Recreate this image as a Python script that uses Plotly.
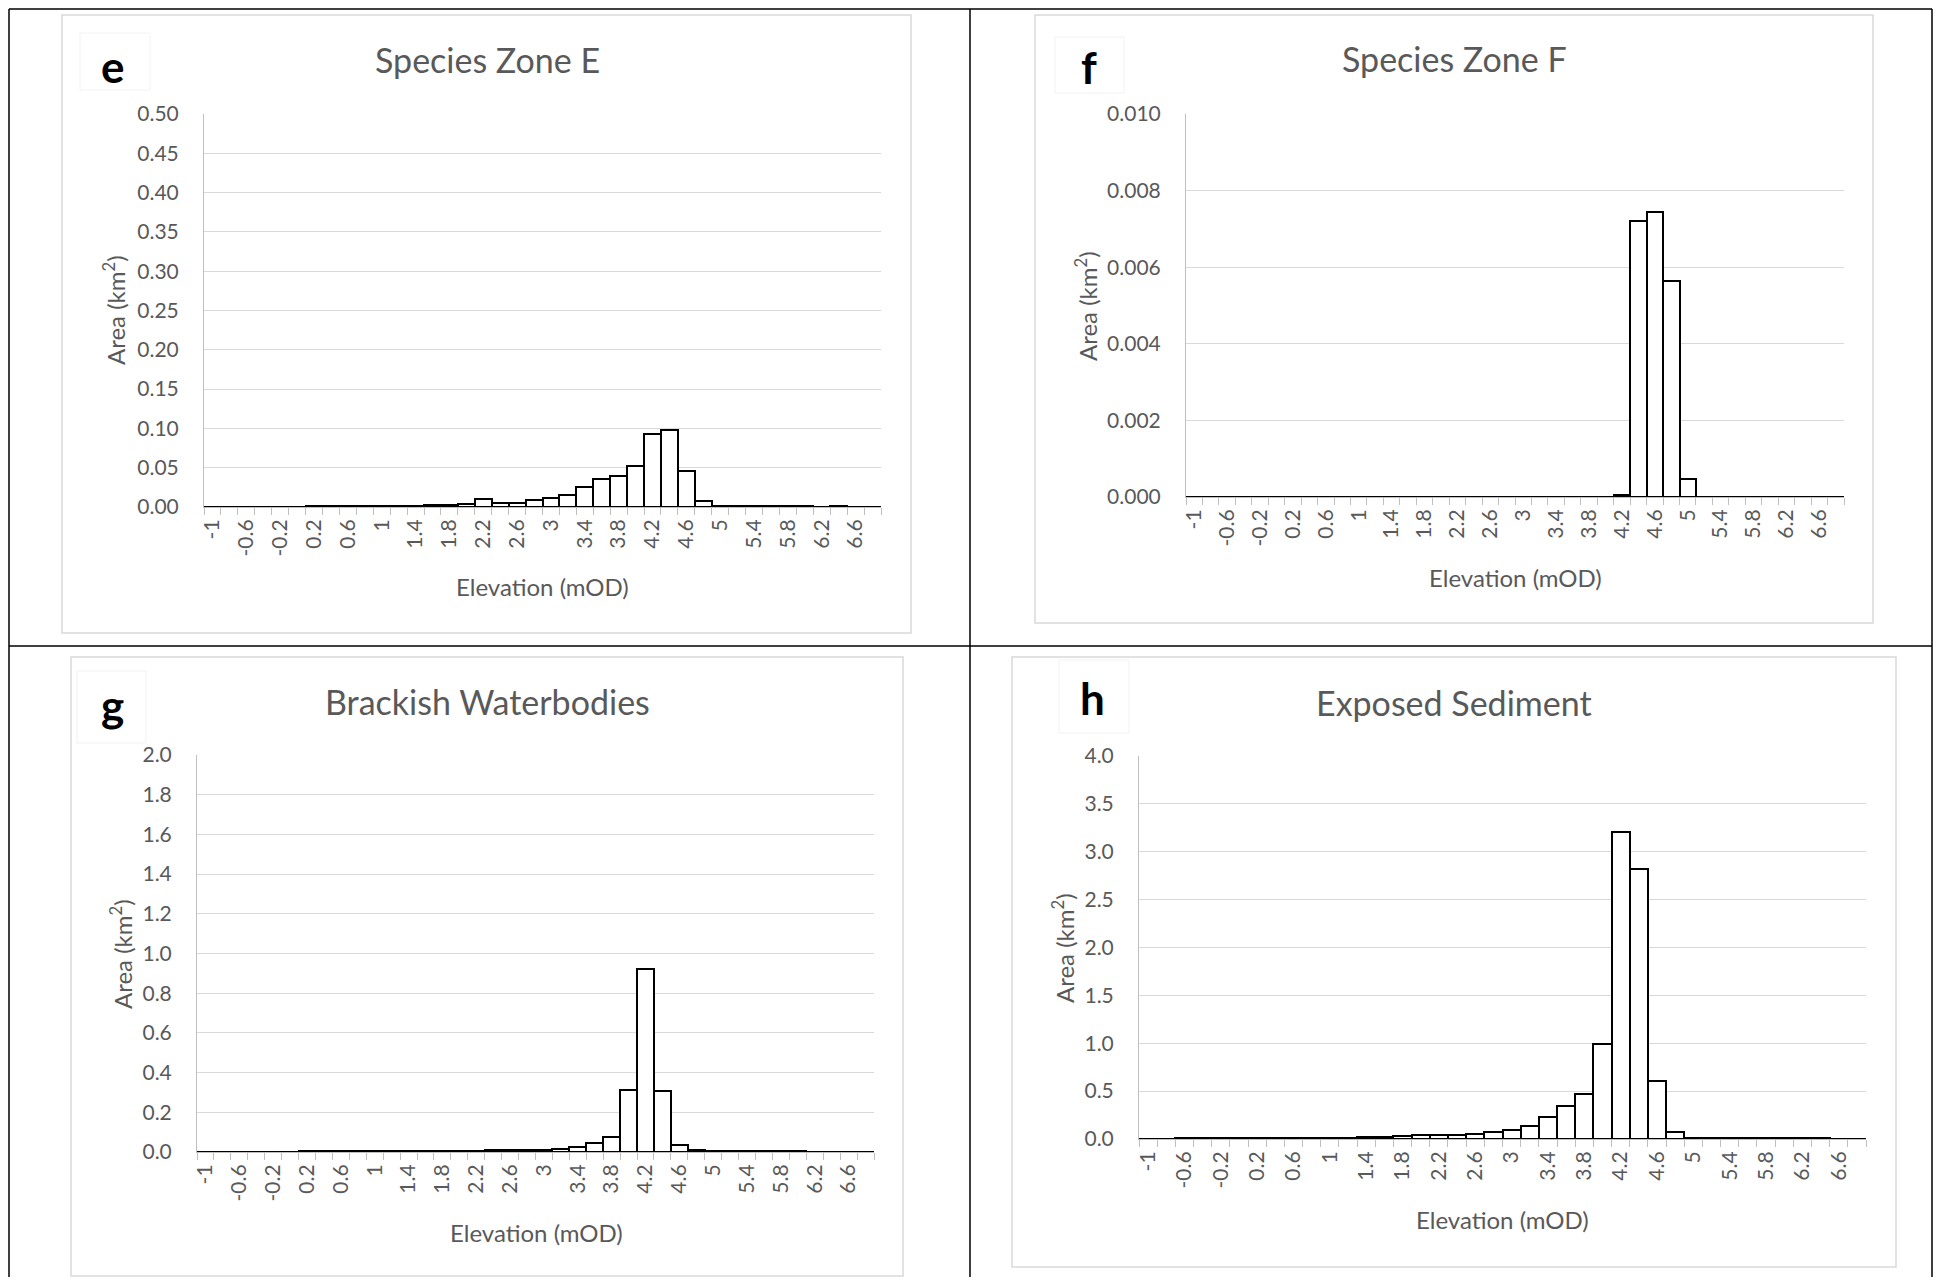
import plotly.graph_objects as go

# The page keeps the browser's default 8px body margin, so the figure is
# sized to fit the 1941x1286 window exactly and all pixel positions below
# (measured in window coordinates) are shifted by that margin.
WIN_W, WIN_H = 1941, 1286
OFF = 8
W, H = WIN_W - 2 * OFF, WIN_H - 2 * OFF

# ---------------- data ----------------
elevation = [-1.0, -0.8, -0.6, -0.4, -0.2, 0.0, 0.2, 0.4, 0.6, 0.8,
             1.0, 1.2, 1.4, 1.6, 1.8, 2.0, 2.2, 2.4, 2.6, 2.8,
             3.0, 3.2, 3.4, 3.6, 3.8, 4.0, 4.2, 4.4, 4.6, 4.8,
             5.0, 5.2, 5.4, 5.6, 5.8, 6.0, 6.2, 6.4, 6.6, 6.8]

tick_values = [-1, -0.6, -0.2, 0.2, 0.6, 1, 1.4, 1.8, 2.2, 2.6,
               3, 3.4, 3.8, 4.2, 4.6, 5, 5.4, 5.8, 6.2, 6.6]
tick_labels = ["-1", "-0.6", "-0.2", "0.2", "0.6", "1", "1.4", "1.8", "2.2", "2.6",
               "3", "3.4", "3.8", "4.2", "4.6", "5", "5.4", "5.8", "6.2", "6.6"]

zone_e = [0, 0, 0, 0, 0, 0, 0.0016, 0.0016, 0.0016, 0.0016,
          0.0016, 0.0016, 0.0018, 0.002, 0.0025, 0.0035, 0.010, 0.005, 0.005, 0.009,
          0.011, 0.015, 0.026, 0.035, 0.040, 0.052, 0.093, 0.098, 0.046, 0.008,
          0.0016, 0.0016, 0.0016, 0.0016, 0.0016, 0.0016, 0, 0.0016, 0, 0]

zone_f = [0, 0, 0, 0, 0, 0, 0, 0, 0, 0,
          0, 0, 0, 0, 0, 0, 0, 0, 0, 0,
          0, 0, 0, 0, 0, 0, 0.00004, 0.00720, 0.00744, 0.00565,
          0.00047, 0, 0, 0, 0, 0, 0, 0, 0, 0]

brackish = [0, 0, 0, 0, 0, 0, 0.007, 0.007, 0.007, 0.007,
            0.007, 0.007, 0.007, 0.007, 0.007, 0.007, 0.007, 0.008, 0.009, 0.010,
            0.011, 0.014, 0.024, 0.045, 0.074, 0.311, 0.924, 0.308, 0.034, 0.008,
            0.007, 0.007, 0.007, 0.007, 0.007, 0.007, 0, 0, 0, 0]

sediment = [0, 0, 0.015, 0.015, 0.015, 0.015, 0.015, 0.015, 0.015, 0.015,
            0.015, 0.015, 0.018, 0.022, 0.027, 0.038, 0.045, 0.045, 0.052, 0.070,
            0.094, 0.132, 0.233, 0.341, 0.467, 0.996, 3.207, 2.824, 0.609, 0.073,
            0.015, 0.015, 0.015, 0.015, 0.015, 0.015, 0.015, 0.015, 0, 0]

titles = ["Species Zone E", "Species Zone F", "Brackish Waterbodies", "Exposed Sediment"]
letters = ["e", "f", "g", "h"]
y_max = [0.5, 0.010, 2.0, 4.0]
y_dtick = [0.05, 0.002, 0.2, 0.5]
y_format = [".2f", ".3f", ".1f", ".1f"]
series = [zone_e, zone_f, brackish, sediment]

# ---------------- layout geometry (window pixels) ----------------
plot_boxes = [  # x0, x1, ytop, ybottom
    (204, 881, 114, 507),
    (1186, 1844, 114, 497),
    (197, 874, 755, 1152),
    (1139, 1866, 756, 1139),
]
chart_boxes = [  # x0, y0, x1, y1
    (62, 15, 911, 633),
    (1035, 15, 1873, 623),
    (71, 657, 903, 1276),
    (1012, 657, 1896, 1267),
]
title_pos = [(487, 60), (1454, 59), (487, 701), (1454, 702)]
xtitle_pos = [(542, 586), (1515, 577), (536, 1232), (1502, 1219)]
ytitle_pos = [(114, 310), (1086, 306), (121, 954), (1063, 948)]
letter_pos = [(113, 66), (1089, 67), (112, 705), (1092, 698)]
letter_boxes = [(80, 33, 150, 90), (1055, 37, 1124, 93), (77, 671, 146, 743), (1059, 660, 1129, 733)]


def px(x):
    return (x - OFF) / W


def py(y):
    return 1 - (y - OFF) / H


FONT = "Lato"
GREY = "#595959"

fig = go.Figure()
layout = dict(
    width=W, height=H,
    margin=dict(l=0, r=0, t=0, b=0, autoexpand=False),
    paper_bgcolor="white", plot_bgcolor="white",
    showlegend=False, bargap=0,
    font=dict(family=FONT, color=GREY),
)

annotations = []
shapes = []

for i in range(4):
    n = "" if i == 0 else str(i + 1)
    xa, ya = "x" + n, "y" + n
    fig.add_trace(go.Bar(
        x=elevation, y=series[i], xaxis=xa, yaxis=ya, width=0.2,
        marker=dict(color="white", line=dict(color="black", width=2)),
        hoverinfo="skip",
    ))
    x0, x1, yt, yb = plot_boxes[i]
    layout["xaxis" + n] = dict(
        domain=[px(x0), px(x1)], anchor=ya, range=[-1.1, 6.9],
        automargin=False,
        tickmode="array", tickvals=tick_values, ticktext=tick_labels,
        tickangle=-90, ticks="", showgrid=False, zeroline=False,
        showline=True, linecolor="#bfbfbf", linewidth=1,
        tickfont=dict(family=FONT, size=21, color=GREY),
        ticklabelstandoff=3,
        minor=dict(tick0=-1.1, dtick=0.2, ticks="outside", ticklen=7,
                   tickcolor="#bfbfbf", tickwidth=1, showgrid=False),
        fixedrange=True,
    )
    layout["yaxis" + n] = dict(
        domain=[py(yb), py(yt)], anchor=xa, range=[0, y_max[i]],
        automargin=False,
        dtick=y_dtick[i], tick0=0, tickformat=y_format[i],
        showgrid=True, gridcolor="#d9d9d9", gridwidth=1,
        zeroline=False, showline=True, linecolor="#bfbfbf", linewidth=1,
        ticks="", tickfont=dict(family=FONT, size=21, color=GREY),
        ticklabelstandoff=20, fixedrange=True,
    )
    # chart area frame
    cx0, cy0, cx1, cy1 = chart_boxes[i]
    shapes.append(dict(type="rect", xref="paper", yref="paper",
                       x0=px(cx0), x1=px(cx1), y0=py(cy1), y1=py(cy0),
                       line=dict(color="#d9d9d9", width=1.5), layer="below"))
    # faint label box
    lx0, ly0, lx1, ly1 = letter_boxes[i]
    shapes.append(dict(type="rect", xref="paper", yref="paper",
                       x0=px(lx0), x1=px(lx1), y0=py(ly1), y1=py(ly0),
                       line=dict(color="#f2f2f2", width=1), layer="below"))
    tx, ty = title_pos[i]
    annotations.append(dict(text=titles[i], x=px(tx), y=py(ty), xref="paper", yref="paper",
                            showarrow=False, xanchor="center", yanchor="middle",
                            font=dict(family=FONT, size=34, color=GREY)))
    ax_, ay_ = xtitle_pos[i]
    annotations.append(dict(text="Elevation (mOD)", x=px(ax_), y=py(ay_), xref="paper", yref="paper",
                            showarrow=False, xanchor="center", yanchor="middle",
                            font=dict(family=FONT, size=24, color=GREY)))
    bx, by = ytitle_pos[i]
    annotations.append(dict(text="Area (km<sup>2</sup>)", x=px(bx), y=py(by), xref="paper", yref="paper",
                            showarrow=False, xanchor="center", yanchor="middle", textangle=-90,
                            font=dict(family=FONT, size=24, color=GREY)))
    ex, ey = letter_pos[i]
    annotations.append(dict(text="<b>" + letters[i] + "</b>", x=px(ex), y=py(ey), xref="paper", yref="paper",
                            showarrow=False, xanchor="center", yanchor="middle",
                            font=dict(family=FONT, size=44, color="black")))

# table frame lines (window pixels)
table_lines = [
    (9, 9, 1932, 9),         # top
    (9, 9, 9, 1277),         # left
    (970, 9, 970, 1277),     # middle vertical
    (1932, 9, 1932, 1277),   # right
    (9, 646, 1932, 646),     # middle horizontal
]
for (a, b, c, d) in table_lines:
    shapes.append(dict(type="line", xref="paper", yref="paper",
                       x0=px(a), y0=py(b), x1=px(c), y1=py(d),
                       line=dict(color="black", width=1.5)))

layout["annotations"] = annotations
layout["shapes"] = shapes
fig.update_layout(**layout)

fig.write_html("out.html", config={"displayModeBar": False})
